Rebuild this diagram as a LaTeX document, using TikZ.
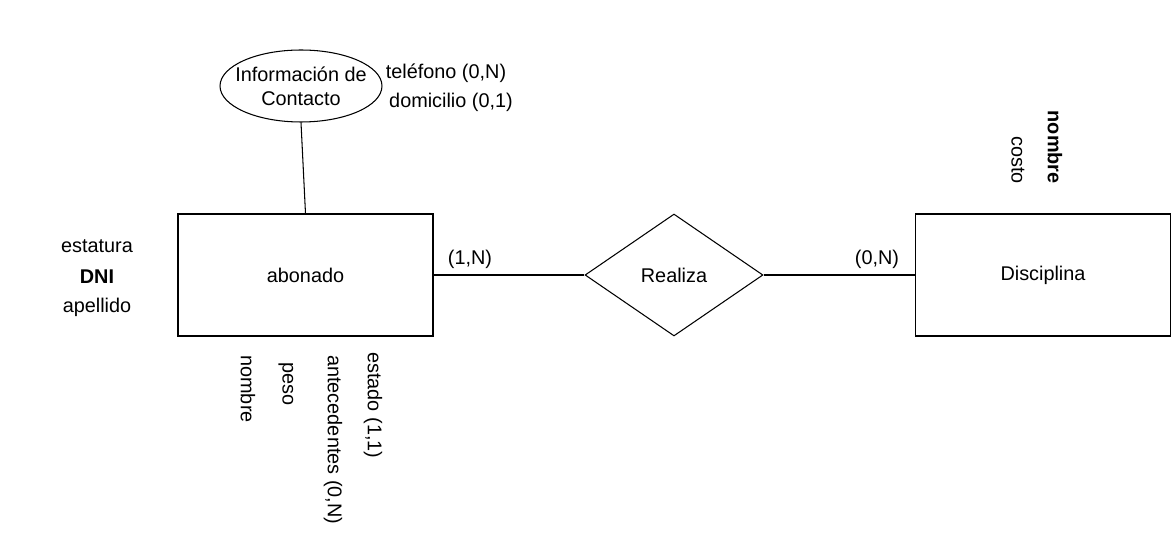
\documentclass[tikz,border=0pt]{standalone}
\usepackage{fontspec}
\setmainfont{Liberation Sans}
\usetikzlibrary{shapes.geometric}
\begin{document}
\begin{tikzpicture}[
    x=0.02cm, y=-0.02cm,
    every node/.style={font=\fontsize{11.3}{13.6}\selectfont},
    entity/.style={rectangle, draw, line width=0.6pt, minimum width=5.1cm, minimum height=2.44cm, align=center},
    relation/.style={diamond, draw, line width=0.6pt, inner sep=0pt, minimum width=3.56cm, minimum height=2.44cm},
    multi/.style={ellipse, draw, line width=0.6pt, inner xsep=-0.18cm, inner ysep=0pt, minimum width=3.24cm, minimum height=1.44cm, align=center},
    attr/.style={inner sep=0pt},
    vattr/.style={inner sep=0pt, rotate=-90},
    link/.style={line width=0.6pt}
]
\useasboundingbox (0,0) rectangle (1171,550);

% Entities and relation
\node[entity] (abonado) at (305.5,275) {abonado};
\node[relation] (realiza) at (674,275) {Realiza};
\node[entity] (disciplina) at (1043,275) {Disciplina};
\node[multi] (contacto) at (301,86) {Información de\\Contacto};

% Connectors
\draw[link] (contacto.south) -- (abonado.north);
\draw[link] (abonado.east) -- (realiza.west);
\draw[link] (realiza.east) -- (disciplina.west);

% Cardinalities
\node[attr] (cardab) at (470,259) {(1,N)};
\node[attr] (carddi) at (877,259) {(0,N)};

% Attributes of contacto
\node[attr] (telefono) at (446,73) {teléfono (0,N)};
\node[attr] (domicilio) at (451,102) {domicilio (0,1)};

% Attributes of abonado
\node[attr] (estatura) at (97,246) {estatura};
\node[attr] (dni) at (97,277) {\textbf{DNI}};
\node[attr] (apellido) at (97,307) {apellido};
\foreach \x/\y/\name/\label in {248/355/nombreab/{nombre}, 286/362/peso/{peso}, 333/355/antec/{antecedentes (0,N)}, 373/352/estado/{estado (1,1)}} {
    \node[vattr, anchor=west] (\name) at (\x,\y) {\label};
}

% Attributes of disciplina
\node[vattr, anchor=east] (costo) at (1018,184) {costo};
\node[vattr, anchor=east] (nombredi) at (1055,184) {\textbf{nombre}};
\end{tikzpicture}
\end{document}
